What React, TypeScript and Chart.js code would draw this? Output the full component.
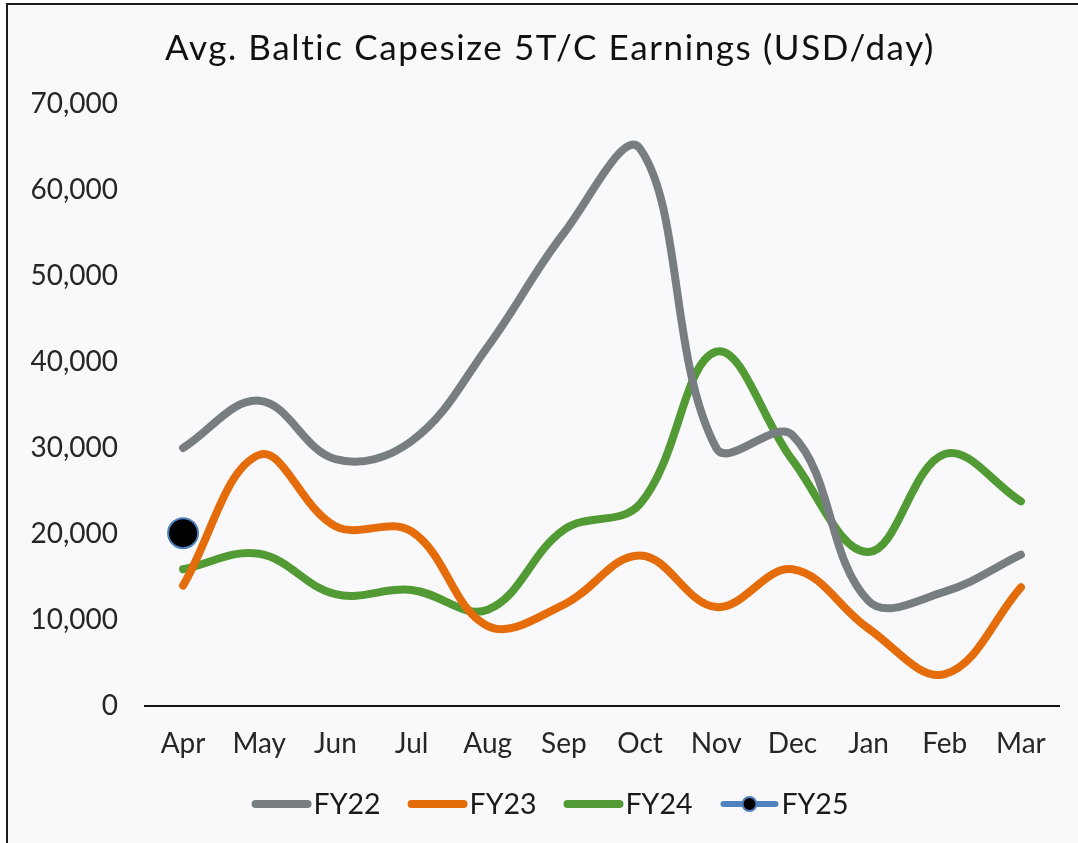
import React, { useEffect, useRef } from "react";
import { Chart, registerables } from "chart.js";

Chart.register(...registerables);

const months = ["Apr", "May", "Jun", "Jul", "Aug", "Sep", "Oct", "Nov", "Dec", "Jan", "Feb", "Mar"];
const fy22 = [30000, 35500, 28700, 30800, 41800, 55000, 64800, 30000, 31500, 12200, 13300, 17600];
const fy23 = [14000, 29200, 20900, 20300, 9300, 11800, 17500, 11500, 15900, 9000, 3700, 13800];
const fy24 = [15900, 17700, 13000, 13500, 11200, 20500, 23500, 41200, 28600, 17900, 29300, 23800];
const fy25 = [20100, null, null, null, null, null, null, null, null, null, null, null];
const seriesLabels = ["FY22", "FY23", "FY24", "FY25"];
const titleText = "Avg. Baltic Capesize 5T/C Earnings (USD/day)";
const yMin = 0;
const yMax = 70000;
const yStep = 10000;

const GRAY = "#777d80";
const ORANGE = "#e46c0a";
const GREEN = "#519a34";
const BLUE = "#4f81bd";
const FONT = "Lato, 'Open Sans', sans-serif";

const titlePlugin = {
  id: "customTitle",
  afterDraw(chart: any) {
    const ctx = chart.ctx;
    ctx.save();
    ctx.font = `35px ${FONT}`;
    (ctx as any).letterSpacing = "1.6px";
    ctx.fillStyle = "#111";
    ctx.textAlign = "center";
    ctx.textBaseline = "alphabetic";
    ctx.fillText(titleText, 542, 55);
    ctx.restore();
  },
};

const legendPlugin = {
  id: "customLegend",
  afterDraw(chart: any) {
    const ctx = chart.ctx;
    ctx.save();
    ctx.font = `28.5px ${FONT}`;
    ctx.textBaseline = "middle";
    ctx.textAlign = "left";
    const lineW = 60;
    const gap = 2;
    const spacing = 27;
    const ds = chart.data.datasets;
    const widths = ds.map((d: any) => lineW + gap + ctx.measureText(d.label).width);
    const total = widths.reduce((a: number, b: number) => a + b, 0) + spacing * (ds.length - 1);
    const centerX = 542;
    const y = 799;
    let x = centerX - total / 2;
    ds.forEach((d: any, i: number) => {
      const isMarker = d.pointRadius > 0;
      ctx.beginPath();
      ctx.lineCap = "round";
      ctx.strokeStyle = isMarker ? BLUE : d.borderColor;
      ctx.lineWidth = isMarker ? 6 : 8;
      ctx.moveTo(x + 4, y);
      ctx.lineTo(x + lineW - 4, y);
      ctx.stroke();
      if (isMarker) {
        ctx.beginPath();
        ctx.arc(x + lineW / 2, y, 7, 0, Math.PI * 2);
        ctx.fillStyle = "#000";
        ctx.fill();
        ctx.lineWidth = 2;
        ctx.strokeStyle = BLUE;
        ctx.stroke();
      }
      ctx.fillStyle = "#1a1a1a";
      ctx.fillText(d.label, x + lineW + gap, y + 1);
      x += widths[i] + spacing;
    });
    ctx.restore();
  },
};

export default function App() {
  const ref = useRef<HTMLCanvasElement | null>(null);

  useEffect(() => {
    if (!ref.current) return;
    const lineDs = (label: string, data: (number | null)[], color: string) => ({
      label,
      data,
      borderColor: color,
      backgroundColor: color,
      borderWidth: 8,
      borderCapStyle: "round" as const,
      borderJoinStyle: "round" as const,
      pointRadius: 0,
      pointHoverRadius: 0,
      tension: 0.38,
      fill: false,
    });
    const chart = new Chart(ref.current, {
      type: "line",
      data: {
        labels: months,
        datasets: [
          lineDs(seriesLabels[0], fy22, GRAY),
          lineDs(seriesLabels[1], fy23, ORANGE),
          lineDs(seriesLabels[2], fy24, GREEN),
          {
            label: seriesLabels[3],
            data: fy25,
            borderColor: BLUE,
            backgroundColor: "#000",
            pointBackgroundColor: "#000",
            pointBorderColor: BLUE,
            pointBorderWidth: 2,
            pointRadius: 15,
            pointHoverRadius: 15,
            showLine: false,
            borderWidth: 5,
          } as any,
        ],
      },
      options: {
        animation: false,
        responsive: false,
        devicePixelRatio: 1,
        events: [],
        layout: { padding: { left: 0, right: 19, top: 99, bottom: 67 } },
        plugins: {
          legend: { display: false },
          tooltip: { enabled: false },
          title: { display: false },
        },
        scales: {
          x: {
            offset: true,
            grid: { display: false, drawTicks: false },
            border: { display: true, color: "#111", width: 2 },
            ticks: {
              color: "#262626",
              font: { family: FONT, size: 28 },
              padding: 21,
              maxRotation: 0,
              autoSkip: false,
            },
            afterFit: (s: any) => {
              s.height = 70;
            },
          },
          y: {
            min: yMin,
            max: yMax,
            grid: { display: false, drawTicks: false },
            border: { display: false },
            ticks: {
              stepSize: yStep,
              color: "#262626",
              font: { family: FONT, size: 28 },
              padding: 27,
              callback: (v: any) => Number(v).toLocaleString("en-US"),
            },
            afterFit: (s: any) => {
              s.width = 137;
            },
          },
        },
      },
      plugins: [titlePlugin, legendPlugin],
    });
    return () => chart.destroy();
  }, []);

  return (
    <div
      style={{
        position: "fixed",
        left: 6,
        top: 3,
        width: 1200,
        height: 1000,
        border: "2px solid #1a1a1a",
        background: "#f9f9fb",
        boxSizing: "content-box",
      }}
    >
      <canvas ref={ref} width={1070} height={838} style={{ display: "block" }} />
    </div>
  );
}
